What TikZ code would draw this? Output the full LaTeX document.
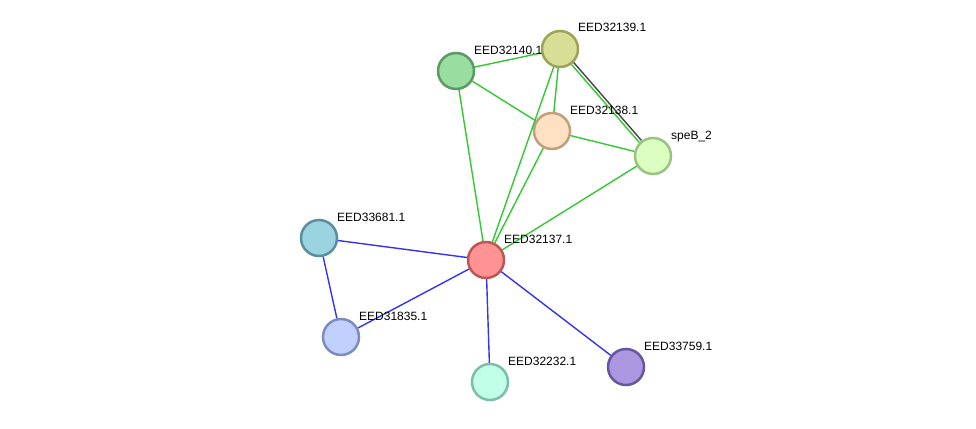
\documentclass[tikz,border=0pt]{standalone}
\usepackage{fontspec}
\setmainfont{Liberation Sans}
\usepackage{tikz}

\definecolor{lnkgreen}{RGB}{51,200,51}
\definecolor{lnkblue}{RGB}{51,51,240}
\definecolor{lnkgray}{RGB}{70,70,70}

\tikzset{
  prot/.style={circle, draw, line width=2.5pt, minimum size=36pt, inner sep=0pt},
  lbl/.style={anchor=base west, inner sep=0pt, font=\fontsize{12}{14}\selectfont},
  gl/.style={draw=lnkgreen, line width=1.4pt},
  bl/.style={draw=lnkblue, line width=1.4pt}
}

\begin{document}
\begin{tikzpicture}[x=1pt, y=-1pt]
\useasboundingbox (0,0) rectangle (976,428);

\node (32139) at (560,49) [prot, fill={rgb,255:red,217;green,222;blue,151}, draw={rgb,255:red,157;green,163;blue,86}] {};
\node (32140) at (456,71) [prot, fill={rgb,255:red,153;green,222;blue,160}, draw={rgb,255:red,92;green,153;blue,100}] {};
\node (32138) at (552,131) [prot, fill={rgb,255:red,255;green,224;blue,194}, draw={rgb,255:red,190;green,160;blue,122}] {};
\node (speB) at (653,156) [prot, fill={rgb,255:red,218;green,255;blue,192}, draw={rgb,255:red,154;green,194;blue,128}] {};
\node (33681) at (319,238) [prot, fill={rgb,255:red,156;green,211;blue,224}, draw={rgb,255:red,90;green,143;blue,157}] {};
\node (32137) at (486,260) [prot, fill={rgb,255:red,255;green,147;blue,147}, draw={rgb,255:red,190;green,85;blue,85}] {};
\node (31835) at (341,337) [prot, fill={rgb,255:red,194;green,208;blue,255}, draw={rgb,255:red,124;green,140;blue,190}] {};
\node (32232) at (490,382) [prot, fill={rgb,255:red,193;green,255;blue,232}, draw={rgb,255:red,125;green,190;blue,170}] {};
\node (33759) at (626,367) [prot, fill={rgb,255:red,171;green,151;blue,224}, draw={rgb,255:red,104;green,85;blue,160}] {};

% green links
\draw[gl] (32140) -- (32139);
\draw[gl] (32140) -- (32138);
\draw[gl] (32140) -- (32137);
\draw[gl] (32139) -- (32138);
\draw[gl] (32139) -- (32137);
\draw[gl, transform canvas={xshift=-1.1pt, yshift=-1pt}] (32139) -- (speB);
\draw[draw=lnkgray, line width=1.4pt, transform canvas={xshift=1.1pt, yshift=1pt}] (32139) -- (speB);
\draw[gl] (32138) -- (speB);
\draw[gl] (32138) -- (32137);
\draw[gl] (speB) -- (32137);

% blue links
\draw[bl] (33681) -- (32137);
\draw[bl] (33681) -- (31835);
\draw[bl] (31835) -- (32137);
\draw[bl] (32137) -- (32232);
\draw[bl] (32137) -- (33759);

% labels
\node (l32139) at (578,32) [lbl] {EED32139.1};
\node (l32140) at (474,55) [lbl] {EED32140.1};
\node (l32138) at (570,114) [lbl] {EED32138.1};
\node (lspeB) at (671,139) [lbl] {speB\_2};
\node (l33681) at (337,221) [lbl] {EED33681.1};
\node (l32137) at (504,243) [lbl] {EED32137.1};
\node (l31835) at (359,320) [lbl] {EED31835.1};
\node (l32232) at (508,365) [lbl] {EED32232.1};
\node (l33759) at (644,350) [lbl] {EED33759.1};
\end{tikzpicture}
\end{document}
